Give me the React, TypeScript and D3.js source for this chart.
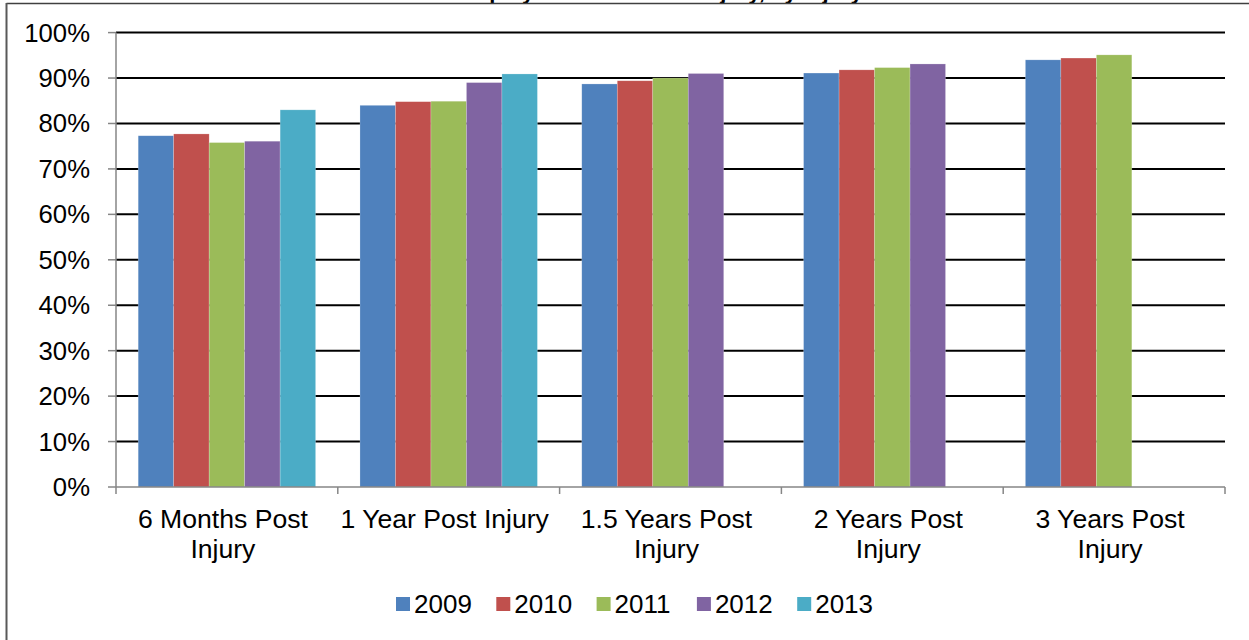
import React from "react";
import * as d3 from "d3";

const categories = [
  ["6 Months Post", "Injury"],
  ["1 Year Post Injury"],
  ["1.5 Years Post", "Injury"],
  ["2 Years Post", "Injury"],
  ["3 Years Post", "Injury"],
];
const seriesNames = ["2009", "2010", "2011", "2012", "2013"];
const seriesColors = ["#4F81BD", "#C0504D", "#9BBB59", "#8064A2", "#4BACC6"];
// values per series, indexed by category (null = no data)
const s2009 = [77.3, 84.0, 88.7, 91.1, 94.0];
const s2010 = [77.7, 84.8, 89.4, 91.8, 94.4];
const s2011 = [75.8, 84.9, 90.0, 92.3, 95.1];
const s2012 = [76.1, 89.0, 91.0, 93.1, null];
const s2013 = [83.0, 90.9, null, null, null];
const seriesValues = [s2009, s2010, s2011, s2012, s2013];
const yTicks = [0, 10, 20, 30, 40, 50, 60, 70, 80, 90, 100];
const title = "Employment Rate Post Injury, by Injury Year";

const W = 1249;
const H = 640;
const FONT = "'Liberation Sans', Arial, sans-serif";

export default function App() {
  const catKeys = categories.map((c) => c.join(" "));
  const x = d3.scaleBand<string>().domain(catKeys).range([116, 1225]).padding(0);
  const bw = x.bandwidth();
  const xs = d3
    .scaleBand<string>()
    .domain(seriesNames)
    .range([bw * 0.1, bw * 0.9])
    .padding(0);
  const y = d3.scaleLinear().domain([0, 100]).range([487, 32.6]);

  const boundaries = [...catKeys.map((k) => x(k) as number), 1225];

  return (
    <svg
      width={W}
      height={H}
      style={{ position: "absolute", left: 0, top: 0, background: "#fff" }}
      fontFamily={FONT}
    >
      <rect x={0} y={0} width={W} height={H} fill="#fff" />
      {/* title, cut off at the top edge as in the source image */}
      <text
        x={915}
        y={-1}
        textAnchor="end"
        fontSize={22}
        fontWeight="bold"
        fill="#000"
      >
        {title}
      </text>
      {/* outer border */}
      <line x1={6.5} x2={W} y1={3.5} y2={3.5} stroke="#404040" strokeWidth={1.5} />
      <line x1={6.5} x2={6.5} y1={3} y2={H} stroke="#595959" strokeWidth={2} />

      {/* gridlines */}
      {yTicks
        .filter((t) => t > 0)
        .map((t) => (
          <line
            key={"g" + t}
            x1={116}
            x2={1225}
            y1={y(t)}
            y2={y(t)}
            stroke="#000"
            strokeWidth={2}
          />
        ))}

      {/* bars */}
      {catKeys.map((k, ci) => (
        <g key={k} transform={`translate(${x(k)},0)`}>
          {seriesNames.map((s, si) => {
            const v = seriesValues[si][ci];
            if (v == null) return null;
            return (
              <rect
                key={s}
                x={xs(s)}
                y={y(v)}
                width={xs.bandwidth()}
                height={y(0) - y(v)}
                fill={seriesColors[si]}
                stroke="rgba(255,255,255,0.35)"
                strokeWidth={0.6}
              />
            );
          })}
        </g>
      ))}

      {/* axes */}
      <line x1={116} x2={116} y1={y(100)} y2={y(0)} stroke="#868686" strokeWidth={1.5} />
      <line x1={116} x2={1225} y1={y(0)} y2={y(0)} stroke="#868686" strokeWidth={1.5} />
      {yTicks.map((t) => (
        <g key={"yt" + t}>
          <line x1={108} x2={116} y1={y(t)} y2={y(t)} stroke="#868686" strokeWidth={1.5} />
          <text
            x={90}
            y={y(t) + 9}
            textAnchor="end"
            fontSize={25.7}
            fill="#000"
          >
            {t + "%"}
          </text>
        </g>
      ))}
      {boundaries.map((bx, i) => (
        <line
          key={"xt" + i}
          x1={bx}
          x2={bx}
          y1={y(0)}
          y2={y(0) + 7}
          stroke="#868686"
          strokeWidth={1.5}
        />
      ))}
      {categories.map((lines, ci) => (
        <text
          key={"cl" + ci}
          x={(x(catKeys[ci]) as number) + bw / 2 - 4}
          y={528}
          textAnchor="middle"
          fontSize={26.6}
          fill="#000"
        >
          {lines.map((ln, li) => (
            <tspan key={li} x={(x(catKeys[ci]) as number) + bw / 2 - 4} dy={li === 0 ? 0 : 30}>
              {ln}
            </tspan>
          ))}
        </text>
      ))}

      {/* legend */}
      {seriesNames.map((s, i) => (
        <g key={"lg" + s} transform={`translate(${396 + i * 100.3},0)`}>
          <rect x={0} y={597} width={14} height={14} fill={seriesColors[i]} />
          <text x={18} y={613} fontSize={26} fill="#000">
            {s}
          </text>
        </g>
      ))}
    </svg>
  );
}
